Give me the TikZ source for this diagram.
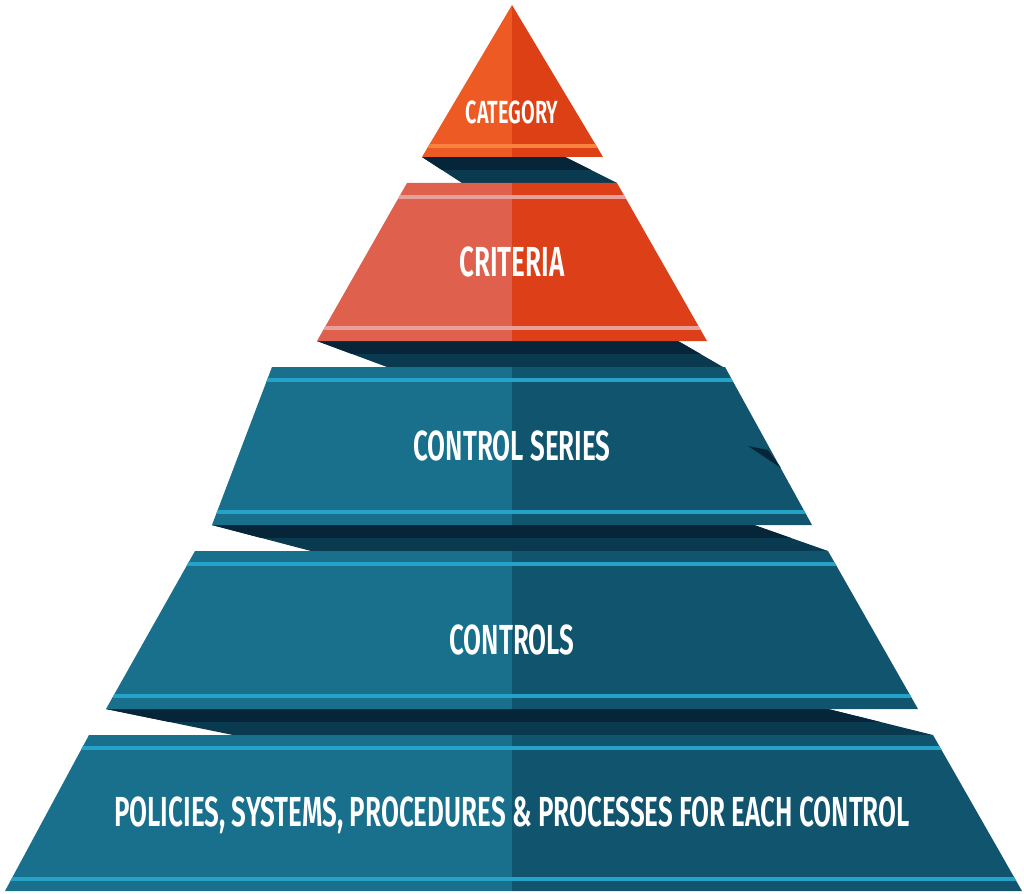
\documentclass[tikz,border=0pt]{standalone}
\usepackage{fontspec}
\newfontfamily\tierfont[FakeStretch=0.62]{Fira Sans SemiBold}
\usetikzlibrary{calc}

\definecolor{tealL}{HTML}{19708C}
\definecolor{tealR}{HTML}{10546E}
\definecolor{tealS}{HTML}{24A2C8}
\definecolor{critL}{HTML}{E0604E}
\definecolor{critR}{HTML}{DD3F18}
\definecolor{critS}{HTML}{E8A09A}
\definecolor{catL}{HTML}{EE5A24}
\definecolor{catR}{HTML}{DD4015}
\definecolor{catS}{HTML}{F8823E}
\definecolor{shadeD}{HTML}{062538}
\definecolor{shadeL}{HTML}{0A3A50}

\tikzset{
  tier/.style={text=white, font=\tierfont\fontsize{42}{42}\selectfont},
}

% #1 left col, #2 right col, #3 stripe col, #4 outline path, #5 stripe y top, #6 stripe y bottom
\newcommand{\tierblock}[6]{
  \begin{scope}
    \clip #4;
    \fill[#1] (0,0) rectangle (512,893);
    \fill[#2] (512,0) rectangle (1024,893);
    \fill[#3] (0,#5-2) rectangle (1024,#5+2);
    \fill[#3] (0,#6-2) rectangle (1024,#6+2);
  \end{scope}
}
% shadow between two tiers
\newcommand{\shadowband}[6]{
  \fill[shadeL] (#1,#5) -- (#2,#5) -- (#3,#6) -- (#4,#6) -- cycle;
  \begin{scope}
    \clip (#1,#5) -- (#2,#5) -- (#3,#6) -- (#4,#6) -- cycle;
    \fill[shadeD] (0,#5) rectangle (1024,{(#5+#6)/2});
  \end{scope}
}

\begin{document}
\begin{tikzpicture}[x=1pt,y=-1pt]
\useasboundingbox (0,0) rectangle (1024,893);

% shadows
\shadowband{422}{565}{617}{462}{157}{183}
\shadowband{317}{678}{723}{387}{341}{367}
\shadowband{212}{754}{828}{311}{525}{551}
\shadowband{106}{828}{933}{233}{709}{735}

% tiers
\tierblock{catL}{catR}{catS}{(512,5) -- (603,157) -- (422,157) -- cycle}{146}{146}
\tierblock{critL}{critR}{critS}{(407,183) -- (617,183) -- (707,341) -- (317,341) -- cycle}{197}{328}
\tierblock{tealL}{tealR}{tealS}{(272,367) -- (725,367) -- (812,525) -- (212,525) -- cycle}{380}{512}
\tierblock{tealL}{tealR}{tealS}{(195,551) -- (828,551) -- (918,709) -- (106,709) -- cycle}{564}{696}
\tierblock{tealL}{tealR}{tealS}{(89,735) -- (933,735) -- (1022,891) -- (5,891) -- cycle}{748}{879}

% notch on control series
\fill[shadeD] (748,446) -- (768,450) -- (781,468) -- cycle;

% labels
\node[tier, font=\tierfont\fontsize{32}{32}\selectfont] (category) at (512,112) {CATEGORY};
\node[tier] (criteria) at (512,262) {CRITERIA};
\node[tier] (series) at (512,446) {CONTROL SERIES};
\node[tier] (controls) at (512,640) {CONTROLS};
\node[tier] (policies) at (512,815) {POLICIES, SYSTEMS, PROCEDURES \& PROCESSES FOR EACH CONTROL};
\end{tikzpicture}
\end{document}
